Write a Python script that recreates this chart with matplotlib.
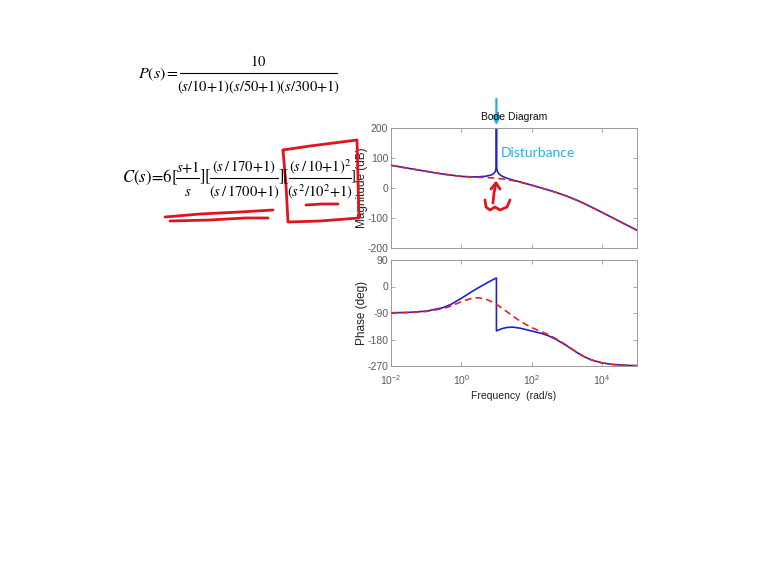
import matplotlib
matplotlib.use('Agg')
import matplotlib.pyplot as plt
from matplotlib.lines import Line2D
from matplotlib.patches import Rectangle

plt.rcParams['mathtext.fontset'] = 'stix'
plt.rcParams['font.family'] = ['Liberation Sans', 'DejaVu Sans']
plt.rcParams['axes.unicode_minus'] = False

# loop with notch (blue) -- magnitude
freq_blue = [0.01, 0.03, 0.1, 0.3, 1, 2, 3, 5, 7, 8, 9, 9.5, 9.8, 9.95, 10, 10.05, 10.2, 10.5,
             11, 12, 13, 15, 20, 30, 50, 100, 200, 300, 500, 1000, 2000, 3000, 5000, 1e4, 2e4,
             3e4, 5e4, 1e5]
mag_blue = [75.6, 66.0, 55.6, 46.4, 38.7, 37.1, 37.2, 39.2, 43.2, 46.6, 52.5, 58.5, 66.4, 78.5,
            250, 78.4, 66.4, 58.4, 52.4, 46.4, 42.9, 38.4, 32.4, 26.3, 19.3, 9.5, -0.6, -6.7,
            -14.7, -27.1, -41.4, -50.8, -63.4, -81.0, -99.0, -109.6, -122.9, -140.9]

# loop without notch (red dashed)
freq_red = [0.01, 0.03, 0.1, 0.3, 1, 2, 3, 5, 7, 10, 15, 20, 30, 50, 100, 200, 300, 500, 1000,
            2000, 3000, 5000, 1e4, 2e4, 3e4, 5e4, 1e5]
mag_red = [75.6, 66.0, 55.6, 46.4, 38.5, 36.4, 35.6, 34.7, 33.8, 32.4, 30.1, 28.0, 24.3, 18.6,
           9.4, -0.7, -6.7, -14.7, -27.1, -41.4, -50.8, -63.4, -81.0, -99.0, -109.6, -122.9,
           -140.9]

# phase
freq_ph_blue = [0.01, 0.03, 0.1, 0.3, 0.5, 1, 2, 3, 5, 7, 9.999, 10.001, 12, 15, 20, 30, 50, 100,
                200, 300, 500, 1000, 2000, 3000, 5000, 1e4, 2e4, 5e4, 1e5]
phase_blue = [-89.4, -88.1, -83.8, -71.9, -61.1, -40.3, -17.3, -4.8, 10.1, 19.7, 29.1, -150.9,
              -146.7, -142.5, -139.0, -138.0, -142.2, -151.0, -159.9, -167.2, -179.8, -201.2,
              -224.9, -237.3, -249.3, -259.4, -264.7, -267.9, -269.0]
freq_ph_red = [0.01, 0.03, 0.1, 0.3, 0.5, 1, 2, 3, 5, 7, 10, 12, 15, 20, 30, 50, 100, 200, 300,
               500, 1000, 2000, 3000, 5000, 1e4, 2e4, 5e4, 1e5]
phase_red = [-89.5, -88.5, -85.0, -75.3, -66.8, -51.7, -40.0, -38.2, -43.0, -50.3, -60.9, -67.1,
             -75.2, -85.9, -101.2, -119.6, -139.6, -154.2, -163.4, -177.5, -200.1, -224.3,
             -236.9, -249.1, -259.3, -264.6, -267.8, -268.9]

W, H = 767, 576
blue = '#2222cc'
red = '#e3232b'
cyan = '#2aaee0'
ink = '#e0141e'
grey = '#5a5a5a'

def fx(x):
    return x / W

def fy(y):
    return 1 - y / H

fig = plt.figure(figsize=(W / 100, H / 100), dpi=100)

def put(x, y, s, size=10.5, ha='center'):
    fig.text(fx(x), fy(y), s, fontsize=size, ha=ha, va='center', color='black')

def frac(x0, x1, ybar, num, den, size=10.5):
    xc = (x0 + x1) / 2
    put(xc, ybar - 11, num, size)
    put(xc, ybar + 14, den, size)
    fig.add_artist(Line2D([fx(x0), fx(x1)], [fy(ybar), fy(ybar)], color='black', lw=0.8,
                          transform=fig.transFigure))

# P(s)
put(179, 74, r'$P(s)=$', 11.5, ha='right')
frac(180, 337, 73, r'$10$', r'$(s/10{+}1)(s/50{+}1)(s/300{+}1)$', 10.5)

# C(s)
put(122, 177, r'$C(s)\!=\!6[$', 12, ha='left')
frac(176, 199, 178, r'$s{+}1$', r'$s$')
put(205, 177, r'$][$', 12)
frac(210, 278, 178, r'$(s\,/\,170{+}1)$', r'$(s\,/\,1700{+}1)$')
put(281, 177, r'$]$', 12)
put(286, 177, r'$[$', 12)
frac(289, 351, 178, r'$(s\,/\,10{+}1)^2$', r'$(s^2/10^2{+}1)$')
put(353, 177, r'$]$', 11)

ax1 = fig.add_axes([fx(391), fy(248), (637 - 391) / W, (248 - 128) / H])
ax2 = fig.add_axes([fx(391), fy(366), (637 - 391) / W, (366 - 260) / H])

ax1.semilogx(freq_blue, mag_blue, color=blue, lw=1.2, zorder=2)
ax1.semilogx(freq_red, mag_red, color=red, lw=1.2, ls=(0, (4, 2.5)), zorder=3)
ax2.semilogx(freq_ph_blue, phase_blue, color=blue, lw=1.2, zorder=2)
ax2.semilogx(freq_ph_red, phase_red, color=red, lw=1.2, ls=(0, (4, 2.5)), zorder=3)

ax1.set_ylim(-200, 200)
ax1.set_yticks([-200, -100, 0, 100, 200])
ax2.set_ylim(-270, 90)
ax2.set_yticks([-270, -180, -90, 0, 90])

for ax in (ax1, ax2):
    ax.set_xlim(1e-2, 1e5)
    ax.set_xticks([1e-2, 1e0, 1e2, 1e4])
    ax.minorticks_off()
    ax.tick_params(direction='in', length=3, top=True, right=True, labelsize=7.5, pad=2,
                   colors='#9a9a9a', labelcolor=grey, width=0.6)
    ax.tick_params(axis='x', pad=5)
    for s in ax.spines.values():
        s.set_color('#9a9a9a')
        s.set_linewidth(0.7)
ax1.set_xticklabels([])
ax1.set_ylabel('Magnitude (dB)', fontsize=8.5, color='#222222')
ax2.set_ylabel('Phase (deg)', fontsize=8.5, color='#222222')
ax1.yaxis.set_label_coords(-0.094, 0.5)
ax2.yaxis.set_label_coords(-0.094, 0.5)
ax2.set_xlabel('Frequency  (rad/s)', fontsize=7.5, color='#222222', labelpad=3)
ax1.set_title('Bode Diagram', fontsize=7.5, color='#111111', pad=6)

# clipped bottom edge of the pasted screenshot
fig.add_artist(Rectangle((fx(440), fy(407)), (160) / W, 6 / H, color='white',
                         transform=fig.transFigure, zorder=10))

# disturbance arrow and label
ax1.annotate('', xy=(10, 200), xytext=(0, 23), textcoords='offset points',
             arrowprops=dict(arrowstyle='-|>', color=cyan, lw=1.6, mutation_scale=12),
             annotation_clip=False)
fig.text(fx(501), fy(153), 'Disturbance', fontsize=10, family='Lato', color=cyan,
         va='center', ha='left')

# red hand-written marks
strokes = [
    [(165, 217), (200, 214), (240, 212), (273, 210)],
    [(170, 221), (210, 220), (245, 218), (268, 218)],
    [(283, 150), (310, 146), (357, 140), (358, 180), (359, 218), (320, 221), (288, 222),
     (286, 185), (283, 150)],
    [(306, 205), (322, 204), (338, 204)],
    [(496, 183), (494, 193), (493, 203)],
    [(491, 189), (496, 183), (500, 189)],
    [(485, 200), (486, 207), (490, 210), (495, 207), (500, 210), (507, 207), (510, 200)],
]
for st in strokes:
    xs = [fx(p[0]) for p in st]
    ys = [fy(p[1]) for p in st]
    fig.add_artist(Line2D(xs, ys, color=ink, lw=2.0, solid_capstyle='round',
                          solid_joinstyle='round', transform=fig.transFigure))

fig.savefig('out.png', dpi=100)
